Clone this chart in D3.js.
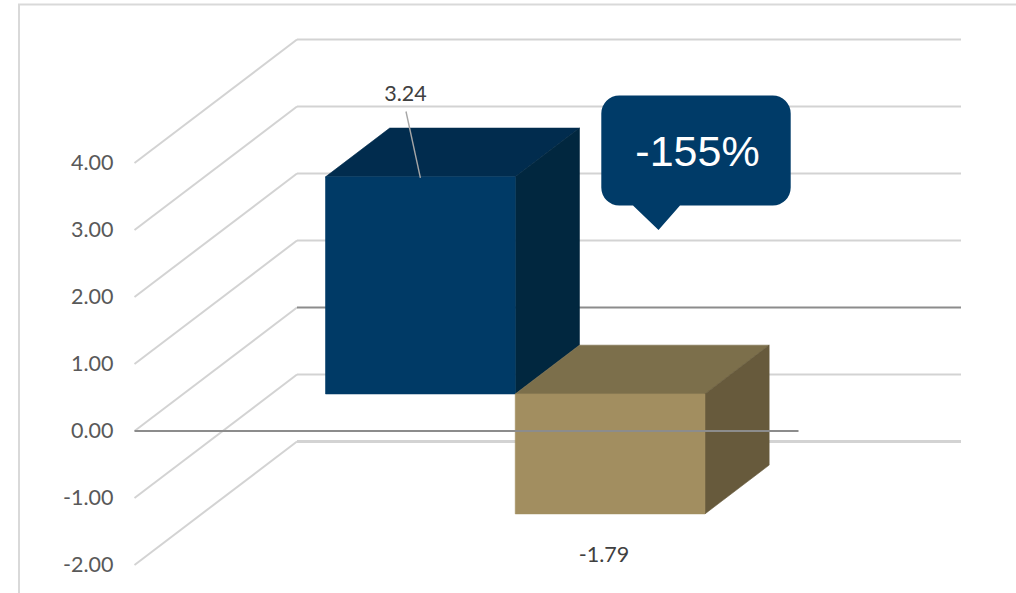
<!DOCTYPE html>
<html>
<head>
<meta charset="utf-8">
<script src="https://cdn.jsdelivr.net/npm/d3@7/dist/d3.min.js"></script>
<style>
  html, body { margin: 0; padding: 0; background: #fff; overflow: hidden; }
  svg { display: block; }
</style>
</head>
<body>
<svg id="chart" width="1016" height="593"></svg>
<script>
// Chart content
const seriesKeys = ["current", "change"];
const seriesValues = [3.24, -1.79];
const tickValues = [-2, -1, 0, 1, 2, 3, 4];
const calloutText = "-155%";

// Face colours per series: front, top, side
const faceColors = [
  { front: "#003a66", top: "#012c4e", side: "#01273f" },
  { front: "#a28e60", top: "#7c6f4b", side: "#675a3c" }
];

const svg = d3.select("#chart");
const fmt = d3.formatLocale({ decimal: ".", thousands: ",", grouping: [3], currency: ["", ""], minus: "-" }).format(".2f");

// Front plane scales; depth is a 0..1 fraction that shifts points back and up
const y = d3.scaleLinear().domain([-2, 4]).range([565, 163]);
const x = d3.scaleBand().domain(seriesKeys).range([134.5, 798.5]).paddingInner(0).paddingOuter(0.75);
const depthX = 162.5, depthY = -123.5;
const barDepth = [0.3, 0.695];
const plotLeft = 134.5, plotRight = 798.5;

const project = (px, value, t) => [px + depthX * t, y(value) + depthY * t];
const poly = pts => pts.map(p => p.join(",")).join(" ");

// Outer frame, open on the right and bottom
svg.append("path")
  .attr("d", "M19,593V4.5H1016")
  .attr("fill", "none").attr("stroke", "#d9d9d9").attr("stroke-width", 2);

// Floor diagonals, all in the light grid colour
const grid = svg.append("g").attr("fill", "none");
grid.append("g").selectAll("path").data(tickValues).join("path")
  .attr("d", v => `M${project(plotLeft, v, 0)}L${project(plotLeft, v, 1)}`)
  .attr("stroke", "#d3d3d3").attr("stroke-width", 2);

// Back wall lines; the zero line is darker and the lowest one heavier
grid.append("g").selectAll("path").data(tickValues).join("path")
  .attr("d", v => `M${project(plotLeft, v, 1)}L${project(plotRight, v, 1)}`)
  .attr("stroke", v => v === 0 ? "#8c8c8c" : "#d3d3d3")
  .attr("stroke-width", v => v === -2 ? 3 : 2);

// Value axis labels
const axis = d3.axisLeft(y).tickValues(tickValues).tickFormat(fmt).tickSize(0).tickPadding(0);
const axisG = svg.append("g").attr("transform", "translate(113.5,0)").call(axis);
axisG.select(".domain").remove();
axisG.selectAll("text")
  .attr("font-family", "Lato, sans-serif").attr("font-size", 21.5).attr("fill", "#595959");

// 3D bars; each face is stroked in its own colour so no seams show between faces
const bars = svg.append("g").selectAll("g").data(seriesKeys).join("g");
const face = (g, color, pts) => g.append("polygon")
  .attr("fill", color).attr("stroke", color).attr("stroke-width", 0.6)
  .attr("points", poly(pts));
bars.each(function (key, i) {
  const g = d3.select(this);
  const v = seriesValues[i];
  const x0 = x(key), x1 = x0 + x.bandwidth();
  const hi = Math.max(v, 0), lo = Math.min(v, 0);
  const [t0, t1] = barDepth;
  face(g, faceColors[i].top, [project(x0, hi, t0), project(x0, hi, t1), project(x1, hi, t1), project(x1, hi, t0)]);
  face(g, faceColors[i].side, [project(x1, hi, t0), project(x1, hi, t1), project(x1, lo, t1), project(x1, lo, t0)]);
  face(g, faceColors[i].front, [project(x0, hi, t0), project(x1, hi, t0), project(x1, lo, t0), project(x0, lo, t0)]);
});

// Zero line of the front plane runs over the bars
svg.append("line")
  .attr("x1", plotLeft).attr("x2", plotRight)
  .attr("y1", y(0)).attr("y2", y(0))
  .attr("stroke", "#8c8c8c").attr("stroke-width", 2);

// Data labels with a leader line on the first bar
const labelAt = [[405.5, 100.5], [604, 561.5]];
svg.append("g").selectAll("text").data(seriesValues).join("text")
  .attr("x", (d, i) => labelAt[i][0]).attr("y", (d, i) => labelAt[i][1])
  .attr("text-anchor", "middle")
  .attr("font-family", "Lato, sans-serif").attr("font-size", 21.5).attr("fill", "#404040")
  .text(d => fmt(d));
const topMid = project(x(seriesKeys[0]) + x.bandwidth() / 2, seriesValues[0], barDepth[0]);
svg.append("line")
  .attr("x1", 406).attr("y1", 111.5).attr("x2", topMid[0]).attr("y2", topMid[1] + 1)
  .attr("stroke", "#a6a6a6").attr("stroke-width", 1.4);

// Callout bubble
const path = d3.path();
const bx0 = 601.3, bx1 = 790.7, by0 = 95.5, by1 = 205.5, r = 18;
path.moveTo(bx0 + r, by0);
path.lineTo(bx1 - r, by0);
path.arcTo(bx1, by0, bx1, by0 + r, r);
path.lineTo(bx1, by1 - r);
path.arcTo(bx1, by1, bx1 - r, by1, r);
path.lineTo(680, by1);
path.lineTo(658.5, 230);
path.lineTo(633, by1);
path.lineTo(bx0 + r, by1);
path.arcTo(bx0, by1, bx0, by1 - r, r);
path.lineTo(bx0, by0 + r);
path.arcTo(bx0, by0, bx0 + r, by0, r);
path.closePath();
svg.append("path").attr("d", path.toString()).attr("fill", "#003b68");
svg.append("text")
  .attr("x", 697.5).attr("y", 165.5).attr("text-anchor", "middle")
  .attr("font-family", "'Liberation Sans', Arial, sans-serif").attr("font-size", 43)
  .attr("fill", "#fff")
  .text(calloutText);
</script>
</body>
</html>
